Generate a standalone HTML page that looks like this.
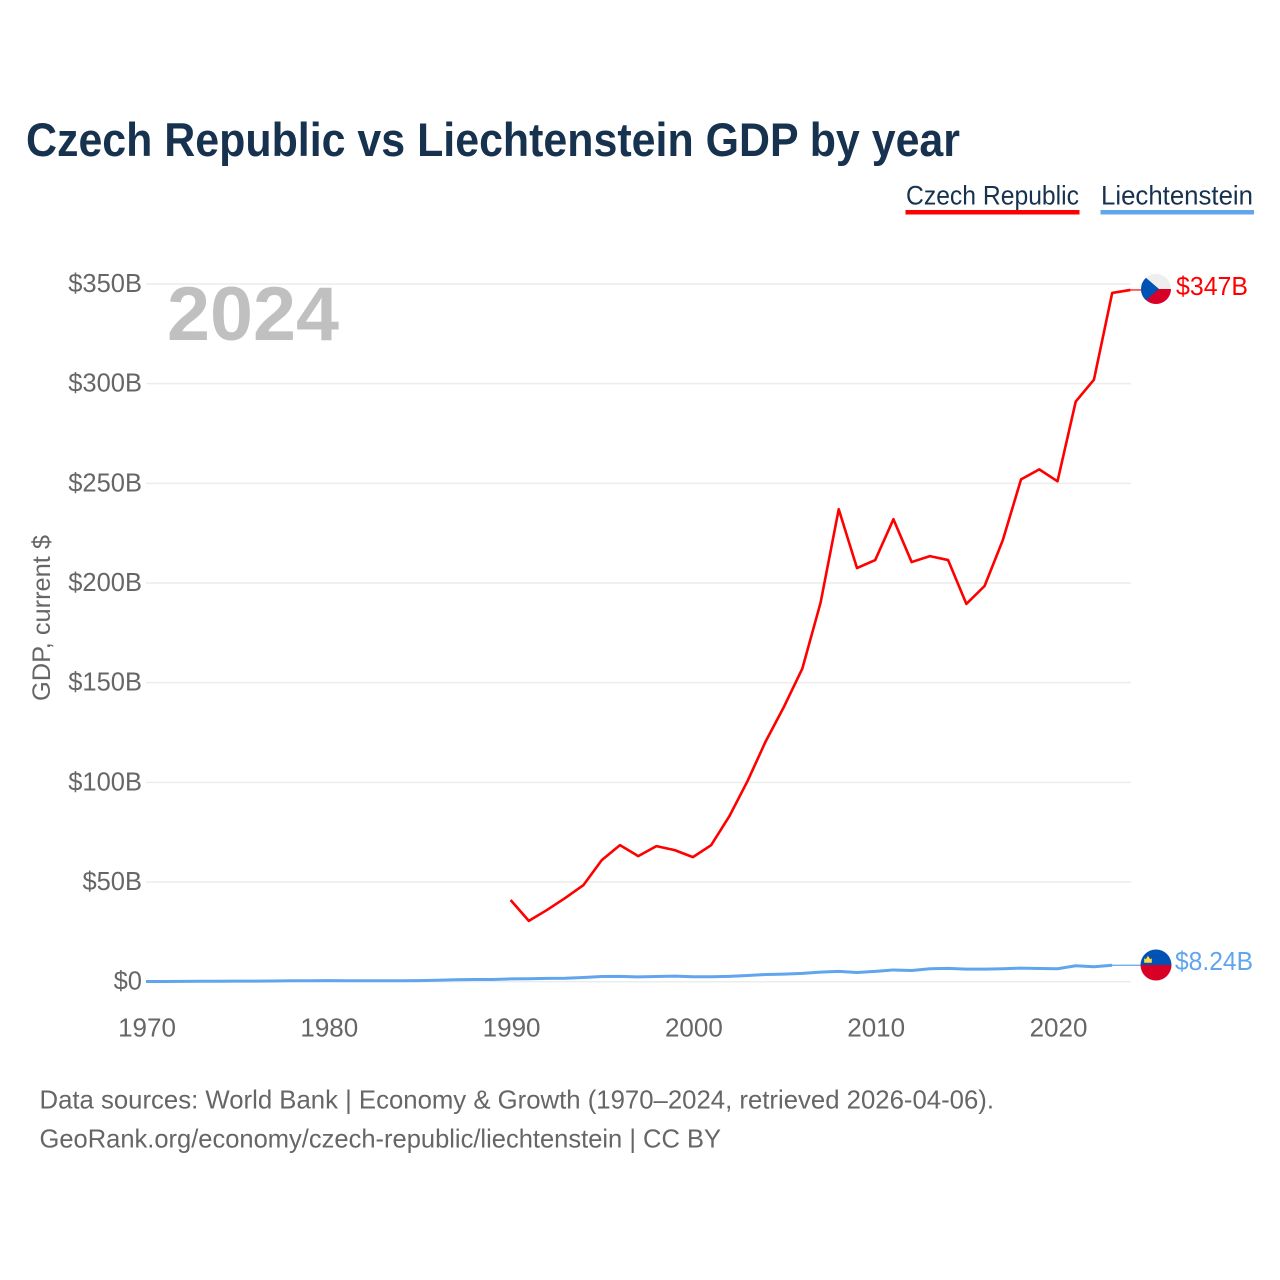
<!DOCTYPE html>
<html>
<head>
<meta charset="utf-8">
<title>Czech Republic vs Liechtenstein GDP by year</title>
<style>
html,body{margin:0;padding:0;background:#fff;}
svg{display:block;font-family:"Liberation Sans",sans-serif;}
</style>
</head>
<body>
<svg id="chart" width="1280" height="1280" viewBox="0 0 1280 1280" xmlns="http://www.w3.org/2000/svg">
  <defs>
    <clipPath id="flag-clip-cz"><circle cx="1156" cy="289" r="15"></circle></clipPath>
    <clipPath id="flag-clip-li"><circle cx="1156" cy="965" r="15.5"></circle></clipPath>
  </defs>
  <text x="26" y="156" font-size="47" font-weight="700" fill="#17324f" textLength="934" lengthAdjust="spacingAndGlyphs">Czech Republic vs Liechtenstein GDP by year</text>

  <g>
    <text x="906" y="204.5" font-size="27" fill="#17324f" textLength="173" lengthAdjust="spacingAndGlyphs">Czech Republic</text>
    <rect x="905.5" y="210" width="174" height="4.5" fill="#ff0000"></rect>
  </g>
  <g>
    <text x="1101" y="204.5" font-size="27" fill="#17324f" textLength="152" lengthAdjust="spacingAndGlyphs">Liechtenstein</text>
    <rect x="1100.5" y="210" width="153.5" height="4.5" fill="#60a5ee"></rect>
  </g>

  <text transform="translate(50,701) rotate(-90)" font-size="25" fill="#666666" textLength="166" lengthAdjust="spacingAndGlyphs">GDP, current $</text>

  <g id="grid"></g>
  <g id="y-ticks"></g>
  <g id="x-ticks"></g>

  <text x="167" y="340" font-size="76" font-weight="700" fill="#c0c0c0" textLength="172" lengthAdjust="spacingAndGlyphs">2024</text>

  <g id="series"></g>

  <g clip-path="url(#flag-clip-cz)">
    <rect x="1140" y="273" width="32" height="16" fill="#eeeeee"></rect>
    <rect x="1140" y="289" width="32" height="16" fill="#d80027"></rect>
    <path d="M1141 273.5 L1159 289 L1141 304.5 Z" fill="#0052b4"></path>
  </g>
  <text id="label-cz" x="1176" y="295" font-size="26" fill="#ff0000" textLength="72" lengthAdjust="spacingAndGlyphs">$347B</text>

  <g clip-path="url(#flag-clip-li)">
    <rect x="1140" y="949" width="32" height="16" fill="#0052b4"></rect>
    <rect x="1140" y="965" width="32" height="16" fill="#d80027"></rect>
    <path d="M1144.2 958.2 l1.6 1 2.2-3.4 2.2 3.4 1.6-1 v4.6 h-7.6 z" fill="#ffda44"></path>
  </g>
  <text id="label-li" x="1175" y="970" font-size="26" fill="#60a5ee" textLength="78" lengthAdjust="spacingAndGlyphs">$8.24B</text>

  <text x="39.5" y="1108.5" font-size="26" fill="#666666" textLength="954.5" lengthAdjust="spacingAndGlyphs">Data sources: World Bank | Economy &amp; Growth (1970–2024, retrieved 2026-04-06).</text>
  <text x="39.5" y="1147.5" font-size="26" fill="#666666" textLength="681.5" lengthAdjust="spacingAndGlyphs">GeoRank.org/economy/czech-republic/liechtenstein | CC BY</text>
</svg>
<script>
const yTickValues = [0, 50, 100, 150, 200, 250, 300, 350];
const yTickLabels = ["$0", "$50B", "$100B", "$150B", "$200B", "$250B", "$300B", "$350B"];
const xTickYears = [1970, 1980, 1990, 2000, 2010, 2020];
const czechYears = [1990,1991,1992,1993,1994,1995,1996,1997,1998,1999,2000,2001,2002,2003,2004,2005,2006,2007,2008,2009,2010,2011,2012,2013,2014,2015,2016,2017,2018,2019,2020,2021,2022,2023,2024];
const czechGdp = [41,30.5,36,42,48.5,61,68.5,63,68,66,62.5,68.5,83,100.7,120.7,138,157,190,237,207.5,211.5,232,210.5,213.5,211.5,189.5,198.5,221.5,252,257,251,291,302,345.5,347];
const liechYears = [1970,1971,1972,1973,1974,1975,1976,1977,1978,1979,1980,1981,1982,1983,1984,1985,1986,1987,1988,1989,1990,1991,1992,1993,1994,1995,1996,1997,1998,1999,2000,2001,2002,2003,2004,2005,2006,2007,2008,2009,2010,2011,2012,2013,2014,2015,2016,2017,2018,2019,2020,2021,2022,2023];
const liechGdp = [0.1,0.12,0.14,0.2,0.25,0.28,0.3,0.35,0.45,0.5,0.55,0.5,0.5,0.5,0.5,0.55,0.75,0.95,1.1,1.1,1.4,1.5,1.65,1.7,2.1,2.6,2.7,2.4,2.6,2.8,2.5,2.5,2.7,3.1,3.6,3.8,4.2,4.8,5.2,4.6,5.2,5.9,5.6,6.5,6.7,6.3,6.3,6.5,6.8,6.6,6.5,8.0,7.5,8.24];

const svgNS = "http://www.w3.org/2000/svg";
function xScale(year) { return 146 + (year - 1970) * 18.23; }
function yScale(value) { return 981.7 - value * 1.9935; }
function pathFrom(years, values) {
  return values.map(function (v, i) {
    return (i ? "L" : "M") + xScale(years[i]).toFixed(2) + " " + yScale(v).toFixed(2);
  }).join(" ");
}

const grid = document.getElementById("grid");
const yTicks = document.getElementById("y-ticks");
const xTicks = document.getElementById("x-ticks");
const series = document.getElementById("series");

yTickValues.forEach(function (v, i) {
  const line = document.createElementNS(svgNS, "line");
  
  
  line.setAttribute("x1", 146);
  line.setAttribute("x2", 1131);
  line.setAttribute("y1", yScale(v));
  line.setAttribute("y2", yScale(v));
  line.setAttribute("stroke", "#ececec");
  line.setAttribute("stroke-width", "1.5");
  grid.appendChild(line);

  const label = document.createElementNS(svgNS, "text");
  
  
  label.setAttribute("x", 142);
  label.setAttribute("y", yScale(v) + 8);
  label.setAttribute("text-anchor", "end");
  label.setAttribute("font-size", "25.5");
  label.setAttribute("fill", "#666666");
  label.textContent = yTickLabels[i];
  yTicks.appendChild(label);
});

xTickYears.forEach(function (year) {
  const label = document.createElementNS(svgNS, "text");
  
  
  label.setAttribute("x", xScale(year) + 1);
  label.setAttribute("y", 1036.5);
  label.setAttribute("text-anchor", "middle");
  label.setAttribute("font-size", "26");
  label.setAttribute("fill", "#666666");
  label.textContent = String(year);
  xTicks.appendChild(label);
});

const liechLine = document.createElementNS(svgNS, "path");


liechLine.setAttribute("d", pathFrom(liechYears, liechGdp));
liechLine.setAttribute("fill", "none");
liechLine.setAttribute("stroke", "#60a5ee");
liechLine.setAttribute("stroke-width", "3");
liechLine.setAttribute("stroke-linejoin", "round");
series.appendChild(liechLine);

const czechLine = document.createElementNS(svgNS, "path");


czechLine.setAttribute("d", pathFrom(czechYears, czechGdp));
czechLine.setAttribute("fill", "none");
czechLine.setAttribute("stroke", "#ff0000");
czechLine.setAttribute("stroke-width", "2.6");
czechLine.setAttribute("stroke-linejoin", "round");
series.appendChild(czechLine);

const liechLastX = xScale(liechYears[liechYears.length - 1]);
const liechLastY = yScale(liechGdp[liechGdp.length - 1]);
const liechConnector = document.createElementNS(svgNS, "line");


liechConnector.setAttribute("x1", liechLastX);
liechConnector.setAttribute("x2", 1141);
liechConnector.setAttribute("y1", liechLastY);
liechConnector.setAttribute("y2", liechLastY);
liechConnector.setAttribute("stroke", "#60a5ee");
liechConnector.setAttribute("stroke-width", "1.2");
series.appendChild(liechConnector);

const czechLastX = xScale(czechYears[czechYears.length - 1]);
const czechLastY = yScale(czechGdp[czechGdp.length - 1]);
const czechConnector = document.createElementNS(svgNS, "line");


czechConnector.setAttribute("x1", czechLastX);
czechConnector.setAttribute("x2", 1141);
czechConnector.setAttribute("y1", czechLastY);
czechConnector.setAttribute("y2", czechLastY);
czechConnector.setAttribute("stroke", "#ff0000");
czechConnector.setAttribute("stroke-width", "1.2");
series.appendChild(czechConnector);
</script>
</body>
</html>
